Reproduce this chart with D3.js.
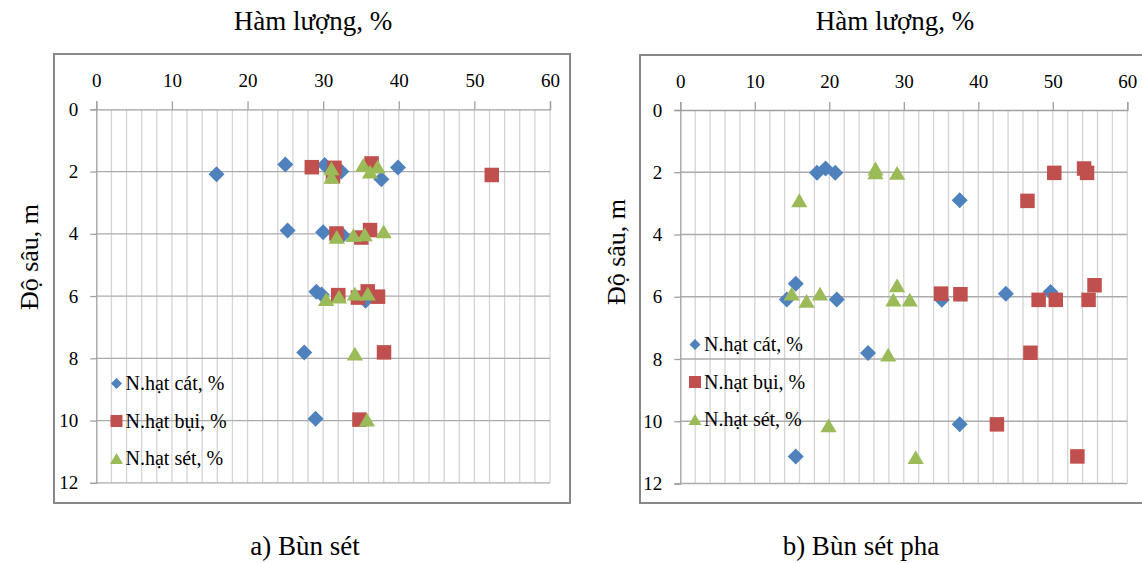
<!DOCTYPE html>
<html>
<head>
<meta charset="utf-8">
<script src="https://cdn.jsdelivr.net/npm/d3@7"></script>
<style>
  body { margin: 0; background: #fff; }
  svg text { font-family: "Liberation Serif", "Times New Roman", serif !important; fill: #000; }
</style>
</head>
<body>
<div id="chart"></div>
<script>

// tick values
var xTicks = [0, 10, 20, 30, 40, 50, 60];
var yTicks = [0, 2, 4, 6, 8, 10, 12];
var seriesNames = ["N.hạt cát, %", "N.hạt bụi, %", "N.hạt sét, %"];

// a) Bùn sét : [hàm lượng %, độ sâu m]
var sandA = [[15.9,2.09],[25.0,1.77],[30.2,1.79],[32.4,2.0],[37.7,2.25],[39.9,1.87],
  [25.3,3.89],[30.0,3.95],[32.6,4.05],[29.1,5.86],[29.8,5.95],[35.6,6.15],[27.5,7.81],[29.0,9.94]];
var siltA = [[28.5,1.86],[31.5,1.88],[31.3,2.15],[36.4,1.74],[52.3,2.11],
  [31.75,3.99],[35.05,4.12],[36.2,3.88],[32.0,5.97],[34.6,6.05],[35.9,5.85],[37.25,6.02],[38.05,7.81],[34.8,9.97]];
var clayA = [[31.1,1.9],[31.1,2.17],[35.3,1.79],[36.2,2.0],[37.2,1.84],
  [31.8,4.1],[34.0,4.04],[35.5,4.02],[38.0,3.92],[30.4,6.1],[32.1,6.02],[34.2,5.92],[35.9,5.92],[34.2,7.85],[35.8,9.97]];

// b) Bùn sét pha
var sandB = [[18.35,2.02],[19.5,1.88],[20.8,2.02],[37.5,2.9],[14.3,6.09],[15.5,5.58],[21.0,6.09],
  [35.1,6.1],[43.7,5.9],[49.7,5.85],[25.2,7.81],[37.5,10.1],[15.5,11.13]];
var siltB = [[50.2,2.02],[54.2,1.88],[54.6,2.02],[46.6,2.92],[35.0,5.9],[37.6,5.92],[48.1,6.1],
  [50.4,6.1],[54.8,6.1],[55.6,5.63],[47.0,7.8],[42.5,10.1],[53.3,11.13]];
var clayB = [[26.2,1.88],[26.2,2.0],[29.1,2.02],[15.97,2.9],[14.95,5.9],[16.95,6.13],[18.75,5.9],
  [29.1,5.63],[28.6,6.09],[30.8,6.09],[27.9,7.86],[19.9,10.13],[31.6,11.15]];

var colors = ["#4f81bd", "#c0504d", "#9bbb59"];

// excel style marker shapes, centred on their box
var diamond = { draw: function(ctx, size) {
  var r = Math.sqrt(size) / 2;
  ctx.moveTo(0, -r); ctx.lineTo(r, 0); ctx.lineTo(0, r); ctx.lineTo(-r, 0); ctx.closePath();
}};
var square = { draw: function(ctx, size) {
  var r = Math.sqrt(size) / 2;
  ctx.rect(-r, -r, 2 * r, 2 * r);
}};
var triangle = { draw: function(ctx, size) {
  var r = Math.sqrt(size) / 2;
  ctx.moveTo(0, -r * 0.92); ctx.lineTo(r * 1.08, r * 0.92); ctx.lineTo(-r * 1.08, r * 0.92); ctx.closePath();
}};
var shapes = [diamond, square, triangle];
var markSize = [16 * 16, 14.5 * 14.5, 15 * 15];
var legSize = [11 * 11, 12 * 12, 12 * 12];

var svg = d3.select("#chart")
  .append("svg")
    .attr("width", 1142)
    .attr("height", 563);

function drawPanel(p) {
  // frame
  svg.append("rect")
    .attr("x", p.frame[0]).attr("y", p.frame[1])
    .attr("width", p.frame[2]).attr("height", p.frame[3])
    .attr("fill", "none")
    .attr("stroke", "#888")
    .attr("stroke-width", 2);

  var x = d3.scaleLinear().domain([0, 60]).range([p.left, p.right]);
  var y = d3.scaleLinear().domain([0, 12]).range([p.top, p.bottom]);

  var g = svg.append("g");

  // vertical minor grid every 2
  g.selectAll(".vgrid")
    .data(d3.range(2, 61, 2))
    .enter()
    .append("line")
    .attr("x1", function(d) { return x(d); })
    .attr("x2", function(d) { return x(d); })
    .attr("y1", y(0)).attr("y2", y(12))
    .attr("stroke", "#d4d4d4")
    .attr("stroke-width", 1.3);

  // horizontal grid
  g.selectAll(".hgrid")
    .data(yTicks.slice(1))
    .enter()
    .append("line")
    .attr("x1", x(0)).attr("x2", x(60))
    .attr("y1", function(d) { return y(d); })
    .attr("y2", function(d) { return y(d); })
    .attr("stroke", "#ababab")
    .attr("stroke-width", 1.3);

  // top axis
  var xAxis = g.append("g")
    .attr("transform", "translate(0," + y(0) + ")")
    .call(d3.axisTop(x).tickValues(xTicks).tickSize(8).tickPadding(14));
  xAxis.attr("font-family", null).attr("font-size", 19);
  xAxis.select(".domain").attr("stroke", "#a0a0a0").attr("stroke-width", 1.3);
  xAxis.selectAll(".tick line").attr("stroke", "#a0a0a0").attr("stroke-width", 1.3);

  // left axis
  var yAxis = g.append("g")
    .attr("transform", "translate(" + x(0) + ",0)")
    .call(d3.axisLeft(y).tickValues(yTicks).tickSize(6).tickPadding(12));
  yAxis.attr("font-family", null).attr("font-size", 19);
  yAxis.select(".domain").attr("stroke", "#a0a0a0").attr("stroke-width", 1.3);
  yAxis.selectAll(".tick line").attr("stroke", "#a0a0a0").attr("stroke-width", 1.3);

  // points
  p.series.forEach(function(data, i) {
    g.selectAll(".pt" + i)
      .data(data)
      .enter()
      .append("path")
      .attr("d", d3.symbol().type(shapes[i]).size(markSize[i]))
      .attr("transform", function(d) { return "translate(" + x(d[0]) + "," + y(d[1]) + ")"; })
      .attr("fill", colors[i]);
  });

  // legend
  var leg = g.selectAll(".leg")
    .data(seriesNames)
    .enter()
    .append("g")
    .attr("transform", function(d, i) { return "translate(" + p.legend[0] + "," + (p.legend[1] + i * 37.5) + ")"; });
  leg.append("path")
    .attr("d", function(d, i) { return d3.symbol().type(shapes[i]).size(legSize[i])(); })
    .attr("fill", function(d, i) { return colors[i]; });
  leg.append("text")
    .attr("x", 9).attr("y", 6.5)
    .style("font-size", "20px")
    .text(function(d) { return d; });

  // titles
  svg.append("text")
    .attr("x", p.titleX).attr("y", 30)
    .attr("text-anchor", "middle")
    .style("font-size", "27px")
    .text("Hàm lượng, %");

  svg.append("text")
    .attr("transform", "translate(" + p.ylabel[0] + "," + p.ylabel[1] + ") rotate(-90)")
    .attr("text-anchor", "middle")
    .style("font-size", "26px")
    .text("Độ sâu, m");

  svg.append("text")
    .attr("x", p.caption).attr("y", 555)
    .attr("text-anchor", "middle")
    .style("font-size", "27px")
    .text(p.captionText);
}

drawPanel({
  frame: [54, 54, 516, 449],
  left: 96.3, right: 550, top: 109.3, bottom: 482.8,
  series: [sandA, siltA, clayA],
  legend: [116.5, 383.5],
  titleX: 313, ylabel: [38, 257],
  caption: 305, captionText: "a) Bùn sét"
});

drawPanel({
  frame: [640, 55, 520, 448],
  left: 680.3, right: 1127.3, top: 110, bottom: 483.5,
  series: [sandB, siltB, clayB],
  legend: [695, 344.5],
  titleX: 895, ylabel: [625, 252],
  caption: 861, captionText: "b) Bùn sét pha"
});

</script>
</body>
</html>
